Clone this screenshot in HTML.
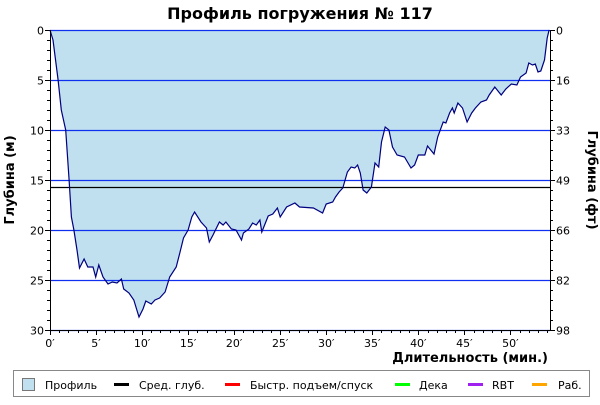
<!DOCTYPE html>
<html><head><meta charset="utf-8"><style>
body{margin:0;background:#fff;font-family:"Liberation Sans","DejaVu Sans",sans-serif}
svg text{font-family:"DejaVu Sans","Liberation Sans",sans-serif}
</style></head><body>
<svg id="c" width="600" height="400" xmlns="http://www.w3.org/2000/svg">
<text x="300" y="19" text-anchor="middle" font-size="16" font-weight="bold">Профиль погружения № 117</text>
<g id="plot"></g>
<text transform="translate(14,180) rotate(-90)" text-anchor="middle" font-size="13" font-weight="bold">Глубина (м)</text>
<text transform="translate(588,180) rotate(90)" text-anchor="middle" font-size="13" font-weight="bold">Глубина (фт)</text>
<text x="548" y="362" text-anchor="end" font-size="13" font-weight="bold">Длительность (мин.)</text>
<g>
<rect x="13.5" y="370.5" width="576" height="26" fill="#fff" stroke="#888"/>
<rect x="22.5" y="378.5" width="12" height="12" fill="#c0e0f0" stroke="#777"/>
<text x="45" y="389" font-size="11">Профиль</text>
<rect x="114" y="383" width="15" height="3" fill="#000"/>
<text x="139" y="389" font-size="11">Сред. глуб.</text>
<rect x="225" y="383" width="15" height="3" fill="#f00"/>
<text x="250" y="389" font-size="11">Быстр. подъем/спуск</text>
<rect x="395" y="383" width="15" height="3" fill="#0f0"/>
<text x="419" y="389" font-size="11">Дека</text>
<rect x="468" y="383" width="15" height="3" fill="#a020f0"/>
<text x="492" y="389" font-size="11">RBT</text>
<rect x="532" y="383" width="15" height="3" fill="#ffa500"/>
<text x="558" y="389" font-size="11">Раб.</text>
</g>
</svg>
<script>
const times=[0,0.33,0.88,1.23,1.7,2.07,2.32,2.6,2.93,3.2,3.7,4.1,4.67,4.96,5.3,5.76,6.3,6.77,7.28,7.75,8.0,8.58,9.1,9.67,10.1,10.4,11.0,11.4,11.9,12.5,13.0,13.7,14.1,14.5,15.0,15.4,15.7,16.4,17.0,17.3,17.7,18.4,18.8,19.1,19.7,20.2,20.8,21.0,21.6,22.0,22.4,22.8,23.0,23.7,24.2,24.7,25.0,25.7,26.6,27.1,28.6,29.6,30.0,30.7,31.0,31.4,31.8,32.3,32.7,33.1,33.4,33.7,34.0,34.4,34.9,35.3,35.7,36.0,36.4,36.8,37.2,37.7,38.5,39.2,39.6,40.0,40.7,41.0,41.7,42.1,42.7,43.0,43.4,43.7,43.9,44.3,44.8,45.3,45.8,46.2,46.8,47.4,47.7,48.3,49.0,49.5,50.1,50.7,51.1,51.7,52.0,52.4,52.7,53.0,53.3,53.7,54.0,54.2];
const depths=[0,1,5,8,10,15,18.7,20,22,23.8,22.9,23.7,23.7,24.7,23.5,24.7,25.4,25.2,25.3,24.9,25.9,26.3,27,28.7,27.9,27.1,27.4,27,26.8,26.2,24.7,23.7,22.3,20.8,20,18.7,18.2,19.2,19.8,21.2,20.5,19.2,19.5,19.2,19.9,20,21,20.3,19.9,19.3,19.5,19,20.2,18.6,18.4,17.8,18.7,17.7,17.3,17.7,17.8,18.3,17.4,17.2,16.7,16.2,15.8,14.2,13.7,13.8,13.5,14.3,16,16.3,15.7,13.3,13.7,11.2,9.7,10,11.7,12.5,12.7,13.8,13.5,12.5,12.5,11.6,12.4,10.7,9.2,9.3,8.3,7.8,8.3,7.3,7.8,9.2,8.3,7.8,7.2,7,6.5,5.7,6.5,5.9,5.4,5.5,4.7,4.3,3.3,3.5,3.4,4.2,4.1,3,0.8,0];
const avgDepth=15.7;
const xTicks=[0,5,10,15,20,25,30,35,40,45,50];
const yTicks=[0,5,10,15,20,25,30];
const ftLabels=["0","16","33","49","66","82","98"];
const X0=50,X1=550,Y0=30,Y1=330,TMAX=54.3,DMAX=30;
const sx=t=>X0+t/TMAX*(X1-X0), sy=d=>Y0+d/DMAX*(Y1-Y0);
const NS="http://www.w3.org/2000/svg", g=document.getElementById('plot');
function mk(tag,a){const e=document.createElementNS(NS,tag);for(const k in a)e.setAttribute(k,a[k]);g.appendChild(e);return e;}
let pts=times.map((t,i)=>sx(t).toFixed(1)+','+sy(depths[i]).toFixed(1));
let area=mk('polygon',{points:sx(0)+','+Y0+' '+pts.join(' ')+' '+sx(times[times.length-1])+','+Y0,fill:'#c0e0f0'});


yTicks.forEach((d,i)=>{
 const y=Math.round(sy(d))+0.5;
 const l=mk('line',{x1:X0,x2:X1,y1:y,y2:y,stroke:'#1030f0','stroke-width':1.2});
 
 
 const tl=mk('text',{x:X0-6,y:y+4,'text-anchor':'end','font-size':11});tl.textContent=d;
 
 
 const tr=mk('text',{x:X1+6,y:y+4,'font-size':11});tr.textContent=ftLabels[i];
 
 
 mk('line',{x1:X1,x2:X1+5,y1:y,y2:y,stroke:'#000'});
 mk('line',{x1:X0-5,x2:X0,y1:y,y2:y,stroke:'#000'});
});
for(let d=0;d<=DMAX;d++){const y=Math.round(sy(d))+0.5;mk('line',{x1:X0-3,x2:X0,y1:y,y2:y,stroke:'#000'});mk('line',{x1:X1,x2:X1+3,y1:y,y2:y,stroke:'#000'});}
const av=Math.round(sy(avgDepth))+0.5;
const al=mk('line',{x1:X0,x2:X1,y1:av,y2:av,stroke:'#000','stroke-width':1.2});


const pl=mk('polyline',{points:pts.join(' '),fill:'none',stroke:'#000080','stroke-width':1.2});


mk('line',{x1:X0+0.5,x2:X0+0.5,y1:Y0,y2:Y1+1,stroke:'#000'});
mk('line',{x1:X1+0.5,x2:X1+0.5,y1:Y0,y2:Y1+1,stroke:'#000'});
mk('line',{x1:X0,x2:X1+1,y1:Y1+0.5,y2:Y1+0.5,stroke:'#000'});
for(let t=0;t<=54;t++){const x=Math.round(sx(t))+0.5;mk('line',{x1:x,x2:x,y1:Y1,y2:Y1+(t%5?3:5),stroke:'#000'});}
xTicks.forEach(t=>{
 const tx=mk('text',{x:sx(t),y:Y1+17,'text-anchor':'middle','font-size':11});tx.textContent=t+'′';
 
 
});
</script>
</body></html>
